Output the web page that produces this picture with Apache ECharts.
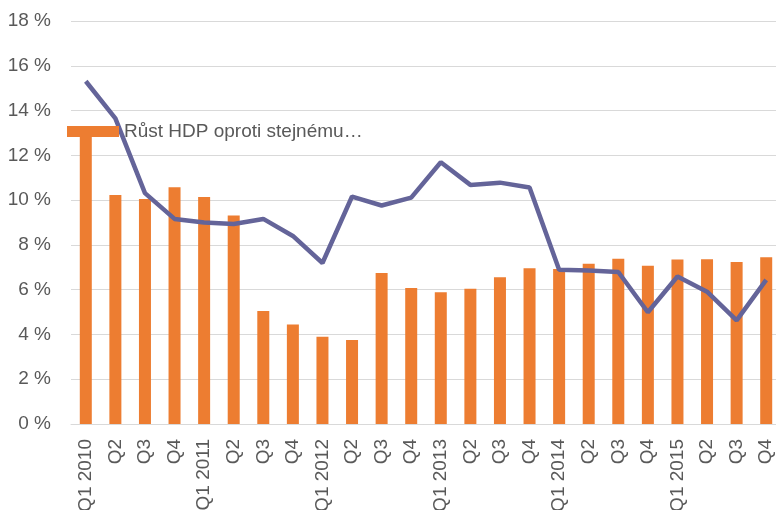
<!DOCTYPE html>
<html>
<head>
<meta charset="utf-8">
<script src="https://cdn.jsdelivr.net/npm/echarts@6/dist/echarts.min.js"></script>
<style>
  html, body { margin: 0; padding: 0; background: #fff; }
  #chart { width: 776px; height: 510px; }
</style>
</head>
<body>
<div id="chart"></div>
<script>
// quarters 2010 - 2015
var quarters = [
  'Q1 2010', 'Q2', 'Q3', 'Q4',
  'Q1 2011', 'Q2', 'Q3', 'Q4',
  'Q1 2012', 'Q2', 'Q3', 'Q4',
  'Q1 2013', 'Q2', 'Q3', 'Q4',
  'Q1 2014', 'Q2', 'Q3', 'Q4',
  'Q1 2015', 'Q2', 'Q3', 'Q4'
]
// bars, in %
var hdpGrowth = [
  13.0, 10.23, 10.05, 10.57,
  10.14, 9.31, 5.05, 4.44,
  3.9, 3.75, 6.75, 6.07,
  5.88, 6.04, 6.56, 6.96,
  6.92, 7.16, 7.38, 7.07,
  7.35, 7.36, 7.24, 7.45
]
// line, in %
var lineSeries = [
  15.31, 13.65, 10.31, 9.16,
  9.0, 8.93, 9.16, 8.4,
  7.19, 10.16, 9.76, 10.11,
  11.69, 10.68, 10.78, 10.56,
  6.89, 6.86, 6.79, 4.99,
  6.59, 5.91, 4.63, 6.44
]
var yTicks = [0, 2, 4, 6, 8, 10, 12, 14, 16, 18]

var chart = echarts.init(document.getElementById('chart'))
var font = 'Liberation Sans'
var option = {
  animation: false,
  textStyle: { fontFamily: font },
  grid: { left: 71, right: -5, top: 21, bottom: 86, containLabel: false, outerBoundsMode: 'none' },
  legend: {
    data: [{ name: 'Růst HDP oproti stejnému období předchozího roku', icon: 'rect' }],
    left: 67,
    top: 122,
    padding: 0,
    itemWidth: 52,
    itemHeight: 11,
    itemGap: 6,
    formatter: function () { return 'Růst HDP oproti stejnému…' },
    textStyle: { color: '#595959', fontSize: 19, fontFamily: font }
  },
  xAxis: {
    type: 'category',
    data: quarters,
    axisLine: { show: true, lineStyle: { color: '#d9d9d9', width: 1 } },
    axisTick: { show: false },
    axisLabel: { rotate: 90, color: '#595959', fontSize: 19, margin: 15, interval: 0 }
  },
  yAxis: {
    type: 'value',
    min: yTicks[0],
    max: yTicks[yTicks.length - 1],
    interval: 2,
    axisLine: { show: false },
    axisTick: { show: false },
    splitLine: { lineStyle: { color: '#d9d9d9', width: 1 } },
    axisLabel: { color: '#595959', fontSize: 19, margin: 20, formatter: '{value} %' }
  },
  series: [
    {
      name: 'Růst HDP oproti stejnému období předchozího roku',
      type: 'bar',
      data: hdpGrowth,
      barWidth: 12,
      itemStyle: { color: '#ED7D31' }
    },
    {
      name: 'line',
      type: 'line',
      data: lineSeries,
      symbol: 'none',
      lineStyle: { color: '#646499', width: 4.5 },
      itemStyle: { color: '#646499' }
    }
  ]
}
chart.setOption(option)
</script>
</body>
</html>
